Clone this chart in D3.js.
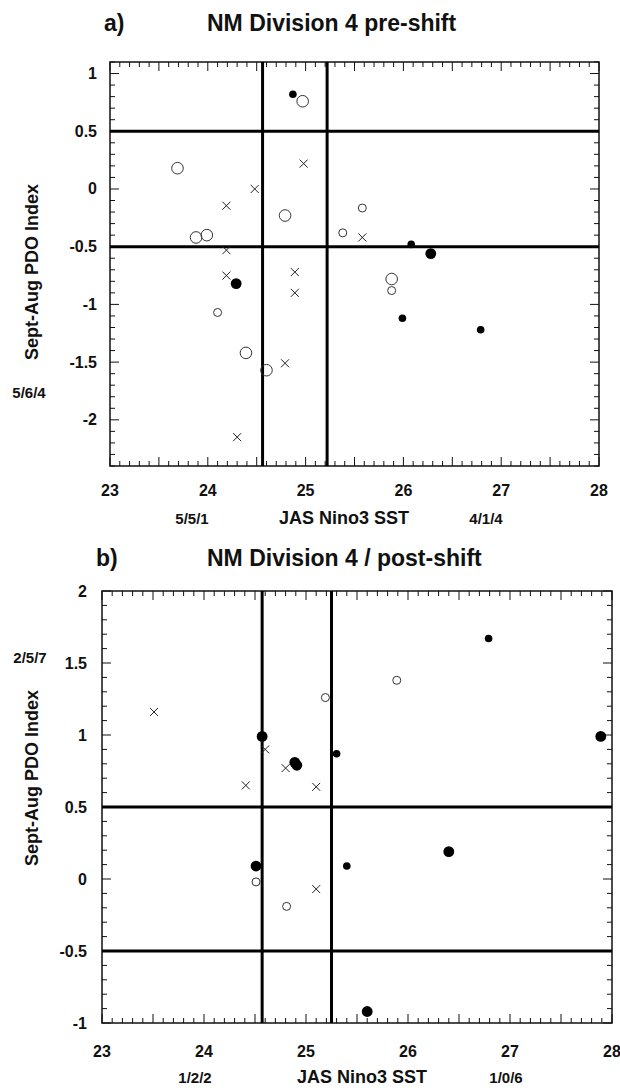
<!DOCTYPE html>
<html>
<head>
<meta charset="utf-8">
<script src="https://cdn.jsdelivr.net/npm/d3@7"></script>
<style>
  html, body { margin: 0; padding: 0; background: #fff; }
  svg { display: block; }
  text { font-family: "Liberation Sans", Arial, Helvetica, sans-serif; fill: #111; }
</style>
</head>
<body>
<svg id="chart" width="620" height="1091"></svg>
<script>
// ---------------- Data ----------------
// Panel a: NM Division 4 pre-shift
const aSST  = [24.87, 24.97, 23.69, 24.98, 24.48, 24.19, 24.79, 25.58, 25.38, 25.58, 23.88, 23.99, 24.19, 24.19, 24.89, 26.08, 26.28, 25.88, 25.88, 25.99, 26.79, 24.29, 24.10, 24.89, 24.39, 24.60, 24.79, 24.30];
const aPDO  = [0.82, 0.76, 0.18, 0.22, 0.00, -0.145, -0.23, -0.165, -0.38, -0.42, -0.42, -0.40, -0.53, -0.75, -0.72, -0.48, -0.56, -0.78, -0.88, -1.12, -1.22, -0.82, -1.07, -0.90, -1.42, -1.57, -1.51, -2.15];
const aType = ["dotS","ringL","ringL","x","x","x","ringL","ringS","ringS","x","ringL","ringL","x","x","x","dotS","dotL","ringL","ringS","dotS","dotS","dotL","ringS","x","ringL","ringL","x","x"];

// Panel b: NM Division 4 / post-shift
const bSST  = [23.51, 24.57, 24.60, 24.89, 24.91, 24.80, 24.41, 25.10, 25.19, 25.30, 26.79, 25.89, 27.89, 24.51, 24.51, 24.81, 25.10, 25.40, 26.40, 25.60];
const bPDO  = [1.16, 0.99, 0.90, 0.81, 0.79, 0.77, 0.65, 0.64, 1.26, 0.87, 1.67, 1.38, 0.99, 0.09, -0.02, -0.19, -0.07, 0.09, 0.19, -0.92];
const bType = ["x","dotL","x","dotL","dotL","x","x","x","ringS","dotS","dotS","ringS","dotL","dotL","ringS","ringS","x","dotS","dotL","dotL"];

// Threshold lines
const aVLines = [24.56, 25.22];
const bVLines = [24.57, 25.25];
const hLines  = [0.5, -0.5];

// Axis ticks / labels
const xTickLabels = [23, 24, 25, 26, 27, 28];
const aYTickLabels = [1, 0.5, 0, -0.5, -1, -1.5, -2];
const bYTickLabels = [2, 1.5, 1, 0.5, 0, -0.5, -1];

// Texts
const aTitle = "NM Division 4 pre-shift";
const bTitle = "NM Division 4 / post-shift";
const xTitle = "JAS Nino3 SST";
const yTitle = "Sept-Aug PDO Index";
const aCounts = {left: "5/6/4", bl: "5/5/1", br: "4/1/4"};
const bCounts = {left: "2/5/7", bl: "1/2/2", br: "1/0/6"};

// ---------------- Drawing ----------------
const svg = d3.select("#chart");
const fmt = v => (v === 0 ? "0" : String(v));

function panel(cfg) {
  const g = svg.append("g");
  const x = d3.scaleLinear().domain(cfg.xdom).range([cfg.left, cfg.right]);
  const y = d3.scaleLinear().domain(cfg.ydom).range([cfg.bottom, cfg.top]);

  // titles
  g.append("text").attr("x", cfg.left - 6).attr("y", cfg.titleY)
    .attr("font-size", 23).attr("font-weight", "bold").text(cfg.letter);
  g.append("text").attr("x", 207).attr("y", cfg.titleY)
    .attr("font-size", 23).attr("font-weight", "bold").text(cfg.title);

  // ticks (inward) on all four sides
  const xMinor = d3.range(Math.round(cfg.xdom[0] * 10), Math.round(cfg.xdom[1] * 10) + 1).map(d => d / 10);
  const yMinor = d3.range(Math.round(cfg.ydom[0] * 10), Math.round(cfg.ydom[1] * 10) + 1).map(d => d / 10);
  const isMajor = v => Math.abs(v * 2 - Math.round(v * 2)) < 1e-6;
  const tk = g.append("g").attr("stroke", "#111").attr("stroke-width", 1);
  xMinor.forEach(v => {
    const L = isMajor(v) ? 9 : 5;
    tk.append("line").attr("x1", x(v)).attr("x2", x(v)).attr("y1", cfg.bottom).attr("y2", cfg.bottom - L);
    tk.append("line").attr("x1", x(v)).attr("x2", x(v)).attr("y1", cfg.top).attr("y2", cfg.top + L);
  });
  yMinor.forEach(v => {
    const L = isMajor(v) ? 9 : 5;
    tk.append("line").attr("y1", y(v)).attr("y2", y(v)).attr("x1", cfg.left).attr("x2", cfg.left + L);
    tk.append("line").attr("y1", y(v)).attr("y2", y(v)).attr("x1", cfg.right).attr("x2", cfg.right - L);
  });

  // frame
  g.append("rect").attr("x", cfg.left).attr("y", cfg.top)
    .attr("width", cfg.right - cfg.left).attr("height", cfg.bottom - cfg.top)
    .attr("fill", "none").attr("stroke", "#111").attr("stroke-width", 1.5);

  // threshold lines
  cfg.vlines.forEach(v => g.append("line").attr("x1", x(v)).attr("x2", x(v))
    .attr("y1", cfg.top).attr("y2", cfg.bottom).attr("stroke", "#000").attr("stroke-width", 3));
  hLines.forEach(v => g.append("line").attr("x1", cfg.left).attr("x2", cfg.right)
    .attr("y1", y(v)).attr("y2", y(v)).attr("stroke", "#000").attr("stroke-width", 3));

  // tick labels
  g.selectAll(".xl").data(xTickLabels).enter().append("text")
    .attr("x", d => x(d)).attr("y", cfg.bottom + cfg.xLabOff).attr("text-anchor", "middle")
    .attr("font-size", 16).attr("font-weight", "bold").text(fmt);
  g.selectAll(".yl").data(cfg.yTicks).enter().append("text")
    .attr("x", cfg.left - cfg.yLabGap).attr("y", d => y(d) + 5.5).attr("text-anchor", "end")
    .attr("font-size", 16).attr("font-weight", "bold").text(fmt);

  // axis titles
  g.append("text").attr("x", cfg.xTitleX).attr("y", cfg.bottom + cfg.xTitleOff).attr("text-anchor", "middle")
    .attr("font-size", 18).attr("font-weight", "bold").text(xTitle);
  g.append("text").attr("transform", `translate(${cfg.yTitleX},${cfg.yTitleY}) rotate(-90)`)
    .attr("text-anchor", "middle").attr("font-size", 18).attr("font-weight", "bold").text(yTitle);

  // counts
  g.append("text").attr("x", cfg.countsLeft[0]).attr("y", cfg.countsLeft[1]).attr("text-anchor", "middle")
    .attr("font-size", 15).attr("font-weight", "bold").text(cfg.counts.left);
  g.append("text").attr("x", cfg.countsBL).attr("y", cfg.bottom + cfg.xTitleOff).attr("text-anchor", "middle")
    .attr("font-size", 15).attr("font-weight", "bold").text(cfg.counts.bl);
  g.append("text").attr("x", cfg.countsBR).attr("y", cfg.bottom + cfg.xTitleOff).attr("text-anchor", "middle")
    .attr("font-size", 15).attr("font-weight", "bold").text(cfg.counts.br);

  // points
  const pts = cfg.sst.map((s, i) => ({s, p: cfg.pdo[i], t: cfg.type[i]}));
  const pg = g.append("g");
  pts.forEach(d => {
    const cx = x(d.s), cy = y(d.p);
    if (d.t === "x") {
      const h = 4;
      pg.append("path").attr("d", `M${cx - h},${cy - h}L${cx + h},${cy + h}M${cx - h},${cy + h}L${cx + h},${cy - h}`)
        .attr("stroke", "#222").attr("stroke-width", 1).attr("fill", "none");
    } else if (d.t === "dotS" || d.t === "dotL") {
      pg.append("circle").attr("cx", cx).attr("cy", cy).attr("r", d.t === "dotS" ? 3.8 : 5.4).attr("fill", "#000");
    } else {
      pg.append("circle").attr("cx", cx).attr("cy", cy).attr("r", d.t === "ringS" ? 4 : 5.8)
        .attr("fill", "none").attr("stroke", "#333").attr("stroke-width", 1);
    }
  });
}

panel({
  letter: "a)", title: aTitle, titleY: 31,
  left: 110, right: 599, top: 62, bottom: 466,
  xdom: [23, 28], ydom: [-2.4, 1.1],
  vlines: aVLines, yTicks: aYTickLabels,
  xLabOff: 30, yLabGap: 13, xTitleX: 344, xTitleOff: 58,
  yTitleX: 38, yTitleY: 272,
  counts: aCounts, countsLeft: [29, 398], countsBL: 192, countsBR: 486,
  sst: aSST, pdo: aPDO, type: aType
});

panel({
  letter: "b)", title: bTitle, titleY: 566,
  left: 102, right: 612, top: 591, bottom: 1023,
  xdom: [23, 28], ydom: [-1, 2],
  vlines: bVLines, yTicks: bYTickLabels,
  xLabOff: 34, yLabGap: 15, xTitleX: 362, xTitleOff: 60,
  yTitleX: 38, yTitleY: 778,
  counts: bCounts, countsLeft: [30, 663], countsBL: 195, countsBR: 506,
  sst: bSST, pdo: bPDO, type: bType
});
</script>
</body>
</html>
